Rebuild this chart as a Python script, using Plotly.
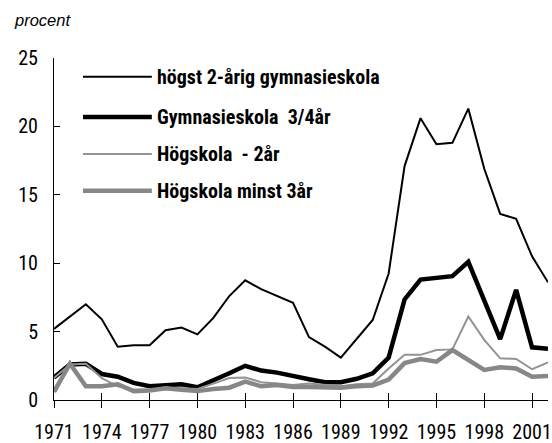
import plotly.graph_objects as go

years = list(range(1971, 2003))

hogst_2arig = [5.2, 6.1, 7.0, 5.9, 3.9, 4.0, 4.0, 5.1, 5.3, 4.8,
               6.0, 7.6, 8.75, 8.1, 7.6, 7.1, 4.6, 3.9, 3.1, 4.45,
               5.85, 9.25, 17.1, 20.6, 18.7, 18.8, 21.3, 16.9, 13.6, 13.25,
               10.5, 8.6]

gymnasieskola_34 = [1.65, 2.6, 2.65, 1.9, 1.7, 1.25, 1.0, 1.1, 1.15, 0.93,
                    1.4, 1.95, 2.5, 2.15, 2.0, 1.72, 1.52, 1.3, 1.3, 1.55,
                    1.95, 3.1, 7.35, 8.8, 8.95, 9.05, 10.1, 7.3, 4.45, 8.05,
                    3.85, 3.75]

hogskola_2 = [1.6, 2.6, 2.65, 1.6, 1.0, 0.75, 0.75, 0.9, 0.85, 0.8,
              1.2, 1.6, 1.65, 1.3, 1.2, 1.1, 1.2, 1.1, 1.0, 1.15,
              1.2, 2.3, 3.3, 3.3, 3.65, 3.7, 6.1, 4.4, 3.05, 3.0,
              2.25, 2.75]

hogskola_3 = [0.6, 2.65, 1.0, 1.0, 1.15, 0.65, 0.7, 0.85, 0.75, 0.65,
              0.8, 0.9, 1.35, 1.0, 1.1, 0.95, 0.95, 0.95, 0.9, 1.0,
              1.05, 1.5, 2.7, 3.0, 2.8, 3.65, 2.95, 2.2, 2.4, 2.3,
              1.7, 1.75]

series_names = ["högst 2-årig gymnasieskola", "Gymnasieskola  3/4år",
                "Högskola  - 2år", "Högskola minst 3år"]
series_values = [hogst_2arig, gymnasieskola_34, hogskola_2, hogskola_3]
series_colors = ["#000000", "#000000", "#939393", "#878787"]
series_widths = [2, 4.5, 2, 4.5]

x_tickvals = list(range(1971, 2002, 3))
y_tickvals = [0, 5, 10, 15, 20, 25]

NARROW = ("Roboto Condensed, Liberation Sans Narrow, Arial Narrow, "
          "Liberation Sans, Arial, sans-serif")
TICK_SIZE = 20
LEG_SIZE = 20

fig = go.Figure()
for name, vals, col, w in zip(series_names, series_values, series_colors, series_widths):
    fig.add_trace(go.Scatter(x=years, y=vals, mode="lines", name=name,
                             line=dict(color=col, width=w), showlegend=False))
# invisible trace carrying the axis used for the inward half of the x ticks
fig.add_trace(go.Scatter(x=[years[0]], y=[0], xaxis="x2", mode="lines",
                         line=dict(width=0), showlegend=False, hoverinfo="skip"))

fig.update_layout(
    width=552, height=443,
    margin=dict(l=54, r=4, t=58, b=43),
    paper_bgcolor="white", plot_bgcolor="white",
    font=dict(family=NARROW, size=TICK_SIZE, color="black"),
    xaxis=dict(range=[1971, 2002], tickvals=x_tickvals, ticks="outside",
               ticklen=7, tickwidth=1, tickcolor="black", automargin=False,
               showline=True, linecolor="black", linewidth=1,
               showgrid=False, zeroline=False, ticklabelstandoff=7,
               tickfont=dict(family=NARROW, size=TICK_SIZE, color="black")),
    xaxis2=dict(range=[1971, 2002], tickvals=x_tickvals, ticks="inside",
                ticklen=7, tickwidth=1, tickcolor="black", overlaying="x",
                anchor="y", side="bottom", showticklabels=False, automargin=False,
                showline=False, showgrid=False, zeroline=False),
    yaxis=dict(range=[0, 25], tickvals=y_tickvals, ticks="inside",
               ticklen=6, tickwidth=1, tickcolor="black", automargin=False,
               showline=True, linecolor="black", linewidth=1,
               showgrid=False, zeroline=False, ticklabelstandoff=11,
               tickfont=dict(family=NARROW, size=TICK_SIZE, color="black")),
)

# legend drawn as line samples + labels
leg_y = [0.945, 0.8275, 0.719, 0.612]
for name, col, w, yy in zip(series_names, series_colors, series_widths, leg_y):
    fig.add_shape(type="line", xref="paper", yref="paper",
                  x0=0.0587, x1=0.198, y0=yy, y1=yy,
                  line=dict(color=col, width=w))
    fig.add_annotation(xref="paper", yref="paper", x=0.2045, y=yy,
                       xanchor="left", yanchor="middle", showarrow=False,
                       text="<b>" + name + "</b>",
                       font=dict(family=NARROW, size=LEG_SIZE, color="black"))

fig.add_annotation(xref="paper", yref="paper", x=-0.0856, y=1.111,
                   xanchor="left", yanchor="middle", showarrow=False,
                   text="<i>procent</i>",
                   font=dict(family="Liberation Sans, Arial, sans-serif", size=16.5, color="black"))

fig.write_html("out.html",
               config={"displayModeBar": False},
               post_script="document.body.style.margin='0px';")
